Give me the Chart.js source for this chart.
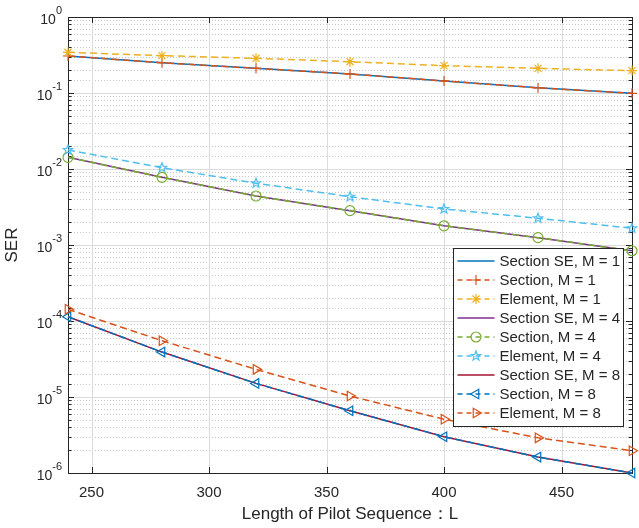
<!DOCTYPE html>
<html>
<head>
<meta charset="utf-8">
<script src="https://cdn.jsdelivr.net/npm/chart.js@4.4.1/dist/chart.umd.min.js"></script>
<style>
  html, body { margin: 0; padding: 0; background: #fff; }
  #wrap { width: 639px; height: 528px; }
</style>
</head>
<body>
<div id="wrap"><canvas id="chart" width="639" height="528"></canvas></div>
<script>
/* ================= DATA ================= */
const pilotLen = [240, 280, 320, 360, 400, 440, 480];

const sectionSE1 = [0.307, 0.25, 0.211, 0.178, 0.144, 0.117, 0.099];
const section1   = [0.307, 0.25, 0.211, 0.178, 0.144, 0.117, 0.099];
const element1   = [0.343, 0.31, 0.286, 0.258, 0.229, 0.211, 0.197];

const sectionSE4 = [0.01425, 0.00777, 0.00441, 0.00283, 0.00179, 0.00125, 0.00084];
const section4   = [0.01425, 0.00777, 0.00441, 0.00283, 0.00179, 0.00125, 0.00084];
const element4   = [0.0178, 0.0104, 0.0065, 0.00432, 0.00298, 0.00225, 0.00166];

const sectionSE8 = [1.14e-4, 3.9e-5, 1.51e-5, 6.6e-6, 3.0e-6, 1.62e-6, 1.0e-6];
const section8   = [1.14e-4, 3.9e-5, 1.51e-5, 6.6e-6, 3.0e-6, 1.62e-6, 1.0e-6];
const element8   = [1.43e-4, 5.5e-5, 2.31e-5, 1.03e-5, 5.1e-6, 2.9e-6, 1.96e-6];

const xTickVals = [250, 300, 350, 400, 450];
const yExponents = [-6, -5, -4, -3, -2, -1, 0];

const xTitle = "Length of Pilot Sequence：L";
const yTitle = "SER";

/* ================= HELPERS ================= */
const FONT = "'Liberation Sans', Arial, Helvetica, sans-serif";
const INK = "#262626";
const DASH = [7, 4];

function pentagram(color, r) {
  const c = document.createElement("canvas");
  const s = Math.ceil(r * 2 + 4);
  c.width = c.height = s;
  const g = c.getContext("2d");
  g.strokeStyle = color;
  g.lineWidth = 1.2;
  g.beginPath();
  for (let i = 0; i < 10; i++) {
    const rr = i % 2 ? r * 0.42 : r;
    const ang = -Math.PI / 2 + i * Math.PI / 5;
    const px = s / 2 + rr * Math.cos(ang), py = s / 2 + rr * Math.sin(ang);
    i ? g.lineTo(px, py) : g.moveTo(px, py);
  }
  g.closePath();
  g.stroke();
  return c;
}

const pts = vals => pilotLen.map((x, i) => ({ x, y: vals[i] }));

function series(label, vals, color, dashed, style, radius, rot) {
  return {
    label,
    data: pts(vals),
    borderColor: color,
    backgroundColor: color,
    borderWidth: 1.5,
    borderDash: dashed ? DASH : [],
    pointStyle: style || false,
    pointRadius: style ? radius : 0,
    pointHoverRadius: style ? radius : 0,
    pointRotation: rot || 0,
    pointBorderColor: color,
    pointBackgroundColor: "rgba(0,0,0,0)",
    pointBorderWidth: 1.2,
    tension: 0,
    clip: false
  };
}

const datasets = [
  series("Section SE, M = 1", sectionSE1, "#0072BD", false),
  series("Section, M = 1", section1, "#D95319", true, "cross", 5),
  series("Element, M = 1", element1, "#EDB120", true, "star", 5),
  series("Section SE, M = 4", sectionSE4, "#7E2F8E", false),
  series("Section, M = 4", section4, "#77AC30", true, "circle", 5),
  series("Element, M = 4", element4, "#4DBEEE", true, pentagram("#4DBEEE", 5), 5),
  series("Section SE, M = 8", sectionSE8, "#A2142F", false),
  series("Section, M = 8", section8, "#0072BD", true, "triangle", 5.5, -90),
  series("Element, M = 8", element8, "#D95319", true, "triangle", 5.5, 90)
];
// later series on top, like MATLAB
datasets.forEach((d, i) => { d.order = datasets.length - i; });

const isDecade = v => Math.abs(Math.log10(v) - Math.round(Math.log10(v))) < 1e-6;

/* ================= PLUGINS ================= */
const axesFrame = {
  id: "axesFrame",
  beforeDatasetsDraw(chart) {
    const { ctx, chartArea: a, scales: { x, y } } = chart;
    ctx.save();
    ctx.lineWidth = 1;

    // y grid: minor dotted, decades solid
    y.ticks.forEach(t => {
      const p = Math.round(y.getPixelForValue(t.value)) + 0.5;
      if (p < a.top || p > a.bottom) return;
      const major = isDecade(t.value);
      ctx.strokeStyle = major ? "#dcdcdc" : "#c8c8c8";
      ctx.setLineDash(major ? [] : [1, 2]);
      ctx.beginPath();
      ctx.moveTo(a.left, p);
      ctx.lineTo(a.right, p);
      ctx.stroke();
    });

    // x grid
    ctx.setLineDash([]);
    ctx.strokeStyle = "#dcdcdc";
    xTickVals.forEach(v => {
      const p = Math.round(x.getPixelForValue(v)) + 0.5;
      ctx.beginPath();
      ctx.moveTo(p, a.top);
      ctx.lineTo(p, a.bottom);
      ctx.stroke();
    });

    // ticks, inward on all sides
    ctx.strokeStyle = INK;
    y.ticks.forEach(t => {
      const p = Math.round(y.getPixelForValue(t.value)) + 0.5;
      if (p < a.top - 1 || p > a.bottom + 1) return;
      const len = isDecade(t.value) ? 6 : 3.5;
      ctx.beginPath();
      ctx.moveTo(a.left, p); ctx.lineTo(a.left + len, p);
      ctx.moveTo(a.right, p); ctx.lineTo(a.right - len, p);
      ctx.stroke();
    });
    xTickVals.forEach(v => {
      const p = Math.round(x.getPixelForValue(v)) + 0.5;
      ctx.beginPath();
      ctx.moveTo(p, a.bottom); ctx.lineTo(p, a.bottom - 6);
      ctx.moveTo(p, a.top); ctx.lineTo(p, a.top + 6);
      ctx.stroke();
    });

    // box
    ctx.strokeStyle = INK;
    ctx.strokeRect(Math.round(a.left) + 0.5, Math.round(a.top) + 0.5,
      Math.round(a.right - a.left), Math.round(a.bottom - a.top));

    // y tick labels 10^n
    ctx.fillStyle = INK;
    ctx.textBaseline = "middle";
    ctx.textAlign = "left";
    const right = a.left - 6;
    yExponents.forEach(e => {
      const p = y.getPixelForValue(Math.pow(10, e));
      const sup = String(e);
      ctx.font = "14px " + FONT;
      const wb = ctx.measureText("10").width;
      ctx.font = "11px " + FONT;
      const ws = ctx.measureText(sup).width;
      ctx.font = "14px " + FONT;
      ctx.fillText("10", right - ws - wb, p + 3);
      ctx.font = "11px " + FONT;
      ctx.fillText(sup, right - ws, p - 6);
    });
    ctx.restore();
  },
  afterDraw(chart) {
    // legend box, inside the axes at the lower right
    const { ctx, chartArea: a } = chart;
    const w = 170, rowH = 19;
    const h = rowH * datasets.length + 7;
    const bx = Math.round(a.right - 9 - w) + 0.5;
    const by = Math.round(a.bottom - 47 - h) + 0.5;
    ctx.save();
    ctx.fillStyle = "#fff";
    ctx.fillRect(bx, by, w, h);
    ctx.strokeStyle = INK;
    ctx.lineWidth = 1;
    ctx.strokeRect(bx, by, w, h);

    datasets.forEach((d, i) => {
      const cy = by + 12.5 + i * rowH;
      const x0 = bx + 4, x1 = bx + 41;
      ctx.strokeStyle = d.borderColor;
      ctx.lineWidth = 1.5;
      ctx.setLineDash(d.borderDash.length ? [5, 4] : []);
      ctx.beginPath();
      ctx.moveTo(x0, cy);
      ctx.lineTo(x1, cy);
      ctx.stroke();
      ctx.setLineDash([]);
      if (d.pointStyle) {
        ctx.fillStyle = "rgba(0,0,0,0)";
        ctx.strokeStyle = d.borderColor;
        ctx.lineWidth = 1.2;
        Chart.helpers.drawPoint(ctx, {
          pointStyle: d.pointStyle, radius: d.pointRadius,
          rotation: d.pointRotation, borderWidth: 1.2
        }, (x0 + x1) / 2, cy);
      }
      ctx.fillStyle = INK;
      ctx.font = "15px " + FONT;
      ctx.textAlign = "left";
      ctx.textBaseline = "middle";
      ctx.fillText(d.label, bx + 46, cy + 0.5);
    });
    ctx.restore();
  }
};

/* ================= CHART ================= */
new Chart(document.getElementById("chart"), {
  type: "line",
  data: { datasets },
  options: {
    responsive: false,
    animation: false,
    events: [],
    layout: { padding: { left: 0, top: 17, right: 7, bottom: 0 } },
    plugins: {
      legend: { display: false },
      tooltip: { enabled: false }
    },
    scales: {
      x: {
        type: "linear",
        min: 240,
        max: 480,
        afterBuildTicks: s => { s.ticks = xTickVals.map(v => ({ value: v })); },
        afterFit: s => { s.height = 55; },
        grid: { display: false, drawTicks: false },
        border: { display: false },
        ticks: {
          color: INK,
          font: { family: FONT, size: 15 },
          padding: 11,
          maxRotation: 0,
          autoSkip: false
        },
        title: {
          display: true,
          text: xTitle,
          color: INK,
          font: { family: FONT, size: 17 },
          padding: { top: 0, bottom: 3 }
        }
      },
      y: {
        type: "logarithmic",
        min: 1e-6,
        max: 1,
        afterFit: s => { s.width = 68; },
        grid: { display: false, drawTicks: false },
        border: { display: false },
        ticks: { display: false },
        title: {
          display: true,
          text: yTitle,
          color: INK,
          font: { family: FONT, size: 17 },
          padding: { top: 2, bottom: 0 }
        }
      }
    }
  },
  plugins: [axesFrame]
});
</script>
</body>
</html>
